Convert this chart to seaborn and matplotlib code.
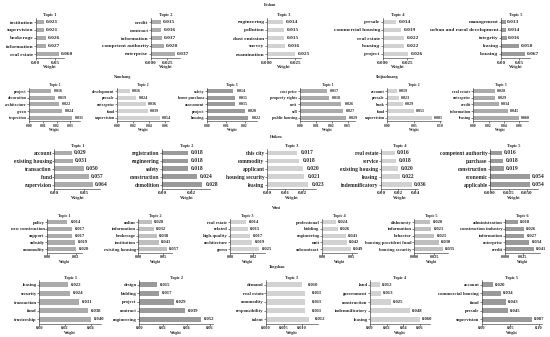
import matplotlib
matplotlib.use("Agg")
import matplotlib.pyplot as plt
import seaborn as sns
import pandas as pd

# ---------------- data ----------------
foshan_terms = [
    ["institution", "supervision", "brokerage", "information", "real estate"],
    ["credit", "contract", "information", "competent authority", "enterprise"],
    ["engineering", "pollution", "dust emission", "survey", "examination"],
    ["presale", "commercial housing", "real estate", "housing", "project"],
    ["management", "urban and rural development", "integrity", "leasing", "housing"],
]
foshan_weights = [
    [0.021, 0.021, 0.026, 0.027, 0.060],
    [0.015, 0.016, 0.017, 0.020, 0.037],
    [0.014, 0.015, 0.015, 0.016, 0.025],
    [0.014, 0.019, 0.022, 0.022, 0.026],
    [0.013, 0.014, 0.016, 0.050, 0.067],
]
foshan_ticks = [[0, 0.05], [0, 0.025], [0, 0.025], [0, 0.025], [0, 0.05]]

nanchang_terms = [
    ["project", "decoration", "architecture", "green", "inspection"],
    ["development", "presale", "enterprise", "fund", "supervision"],
    ["safety", "home purchase", "assessment", "project", "housing"],
]
nanchang_weights = [
    [0.016, 0.019, 0.022, 0.024, 0.031],
    [0.016, 0.024, 0.036, 0.039, 0.054],
    [0.014, 0.015, 0.015, 0.020, 0.022],
]
nanchang_ticks = [[0, 0.01, 0.02, 0.03], [0, 0.02, 0.04, 0.06], [0, 0.01, 0.02]]

shijiazhuang_terms = [
    ["cost price", "property rights", "unit", "sell", "public housing"],
    ["account", "presale", "bank", "fund", "supervision"],
    ["real estate", "enterprise", "credit", "information", "leasing"],
]
shijiazhuang_weights = [
    [0.017, 0.018, 0.026, 0.027, 0.029],
    [0.019, 0.023, 0.029, 0.051, 0.085],
    [0.028, 0.029, 0.034, 0.045, 0.060],
]
shijiazhuang_ticks = [[0, 0.01, 0.02, 0.03], [0, 0.05, 0.10], [0, 0.02, 0.04, 0.06]]

haikou_terms = [
    ["account", "existing housing", "transaction", "fund", "supervision"],
    ["registration", "engineering", "safety", "construction", "demolition"],
    ["this city", "commodity", "applicant", "housing security", "leasing"],
    ["real estate", "service", "existing housing", "leasing", "indemnificatory"],
    ["competent authority", "purchase", "construction", "economic", "applicable"],
]
haikou_weights = [
    [0.029, 0.031, 0.050, 0.057, 0.064],
    [0.018, 0.018, 0.018, 0.024, 0.028],
    [0.017, 0.018, 0.020, 0.021, 0.023],
    [0.016, 0.018, 0.020, 0.022, 0.036],
    [0.016, 0.018, 0.019, 0.054, 0.054],
]
haikou_ticks = [[0, 0.05], [0, 0.02], [0, 0.01, 0.02], [0, 0.02, 0.04], [0, 0.025, 0.05]]

wuxi_terms = [
    ["policy", "new construction", "support", "subsidy", "commodity"],
    ["online", "information", "brokerage", "institution", "existing housing"],
    ["real estate", "related", "high-quality", "architecture", "green"],
    ["professional", "bidding", "engineering", "unit", "subcontract"],
    ["dishonesty", "information", "behavior", "housing provident fund", "housing security"],
    ["administration", "construction industry", "information", "enterprise", "credit"],
]
wuxi_weights = [
    [0.014, 0.017, 0.017, 0.019, 0.020],
    [0.028, 0.032, 0.038, 0.041, 0.057],
    [0.014, 0.015, 0.017, 0.019, 0.025],
    [0.024, 0.026, 0.041, 0.042, 0.049],
    [0.020, 0.021, 0.025, 0.030, 0.035],
    [0.018, 0.026, 0.027, 0.034, 0.041],
]
wuxi_ticks = [[0, 0.02], [0, 0.05], [0, 0.02], [0, 0.05], [0, 0.025], [0, 0.025]]

tangshan_terms = [
    ["leasing", "security", "transaction", "fund", "trusteeship"],
    ["design", "bidding", "project", "contract", "engineering"],
    ["demand", "real estate", "commodity", "responsibility", "talent"],
    ["land", "government", "construction", "indemnificatory", "leasing"],
    ["account", "commercial housing", "fund", "presale", "supervision"],
]
tangshan_weights = [
    [0.022, 0.024, 0.031, 0.038, 0.040],
    [0.015, 0.017, 0.029, 0.039, 0.052],
    [0.010, 0.011, 0.011, 0.011, 0.012],
    [0.012, 0.013, 0.025, 0.048, 0.060],
    [0.020, 0.034, 0.043, 0.045, 0.087],
]
tangshan_ticks = [[0, 0.02, 0.04], [0, 0.02, 0.04, 0.06], [0, 0.005, 0.010],
                  [0, 0.02, 0.04, 0.06], [0, 0.05, 0.10]]

# ---------------- styling / layout ----------------
sns.set_style("ticks")
plt.rcParams["font.family"] = ["Liberation Serif", "DejaVu Serif"]
plt.rcParams["font.weight"] = "bold"
plt.rcParams["axes.linewidth"] = 0.4

DARK, MID, LIGHT, MIDLIGHT = "#9a9a9a", "#ababab", "#d2d2d2", "#bfbfbf"

W, H = 550, 337
fig = plt.figure(figsize=(5.5, 3.37), dpi=100)


def panel(x0, top, bottom, barlen, terms, weights, ticks, color, title, fs):
    vmax = max(weights)
    w = barlen * 1.2
    ax = fig.add_axes([x0 / W, 1 - bottom / H, w / W, (bottom - top) / H])
    df = pd.DataFrame({"term": terms, "weight": weights})
    sns.barplot(data=df, x="weight", y="term", color=color, saturation=1,
                width=0.6, ax=ax, linewidth=0)
    ax.set_xlim(0, vmax * 1.2)
    ax.set_xticks(ticks)
    for i, v in enumerate(weights):
        ax.annotate(f"{v:.3f}", xy=(v + 0.0015, i), xytext=(0.7, 0),
                    textcoords="offset points", va="center", ha="left",
                    fontsize=fs, fontweight="bold")
    ax.set_ylabel("")
    ax.set_xlabel("Weight", fontsize=fs * 0.8, fontweight="bold", labelpad=0.6)
    ax.set_title(title, fontsize=min(3.2, fs * 0.9), fontweight="bold", pad=1.2)
    ax.tick_params(axis="y", labelsize=fs, length=1.2, width=0.4, pad=0.6)
    ax.tick_params(axis="x", labelsize=fs * 0.92, length=1.2, width=0.4, pad=0.6)
    sns.despine(ax=ax)
    return ax


rows = [
    # terms, weights, ticks, top, bottom, x0 list, bar length list, colors, font size
    (foshan_terms, foshan_weights, foshan_ticks, 18, 58,
     [35.7, 151, 267, 383, 501], [23.6, 24, 28, 25, 24],
     [MID, MID, LIGHT, LIGHT, DARK], 3.9),
    (nanchang_terms, nanchang_weights, nanchang_ticks, 87.7, 121,
     [29, 117.3, 207.3], [42.7, 42.7, 41], [MID, LIGHT, DARK], 3.0),
    (shijiazhuang_terms, shijiazhuang_weights, shijiazhuang_ticks, 87.7, 121,
     [300, 387.3, 473.3], [46, 45, 45.7], [MID, LIGHT, MID], 3.0),
    (haikou_terms, haikou_weights, haikou_ticks, 149, 188.6,
     [54.3, 162.3, 267, 381, 490], [38.4, 40, 41, 30.7, 40],
     [MID, DARK, LIGHT, LIGHT, DARK], 4.0),
    (wuxi_terms, wuxi_weights, wuxi_ticks, 218.6, 252.7,
     [47.3, 138.3, 230, 322.3, 414, 505.3], [28.7, 28.4, 29.3, 28.7, 28.7, 29],
     [MID, MIDLIGHT, LIGHT, LIGHT, MIDLIGHT, DARK], 3.3),
    (tangshan_terms, tangshan_weights, tangshan_ticks, 280.3, 323.7,
     [39.3, 139.3, 266, 370, 481.7], [51.4, 61.4, 43, 50, 50],
     [MID, DARK, LIGHT, LIGHT, DARK], 3.45),
]

for terms, weights, ticks, top, bottom, xs, lens, colors, fs in rows:
    for k in range(len(terms)):
        panel(xs[k], top, bottom, lens[k], terms[k], weights[k], ticks[k],
              colors[k], f"Topic {k + 1}", fs)

cities = [("Foshan", 270, 5), ("Nanchang", 123, 77), ("Shijiazhuang", 387, 77),
          ("Haikou", 276, 137), ("Wuxi", 277, 208), ("Tangshan", 277, 267)]
for name, cx, cy in cities:
    fig.text(cx / W, 1 - cy / H, name, ha="center", va="center",
             fontsize=2.9, fontweight="bold")

fig.savefig("out.png", dpi=100, facecolor="white")
